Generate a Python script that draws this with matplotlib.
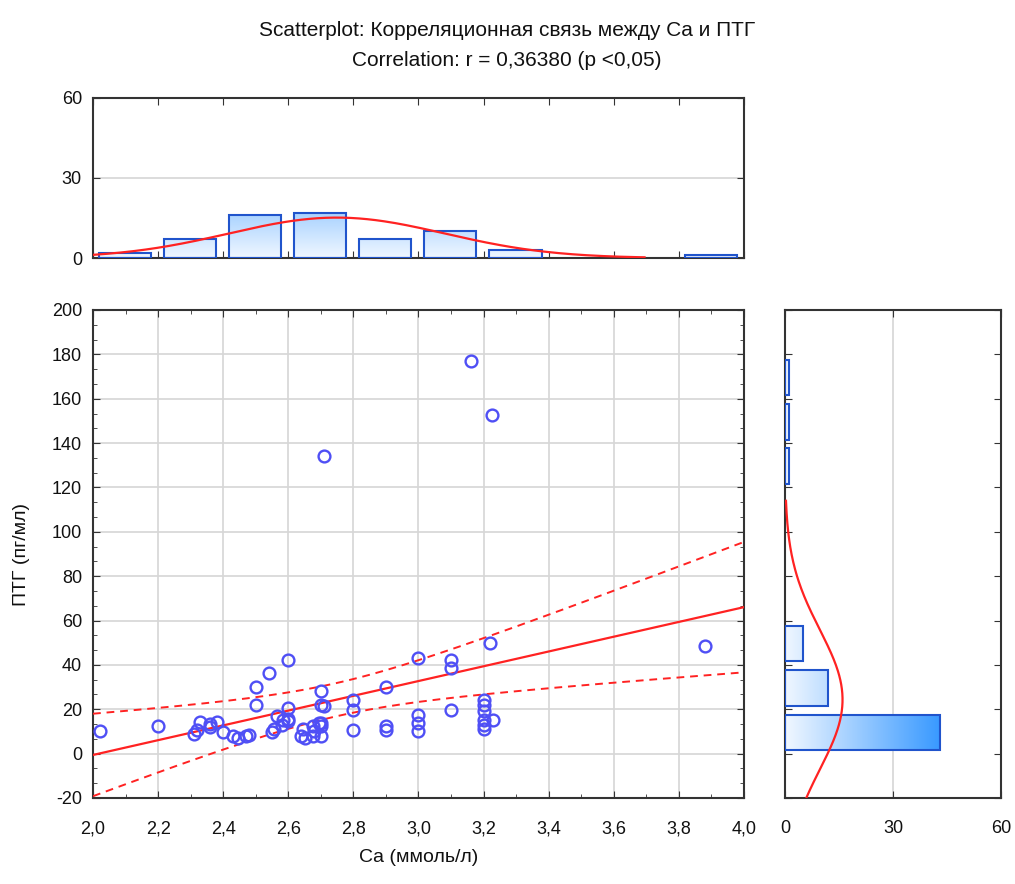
import numpy as np
import matplotlib
matplotlib.use('Agg')
import matplotlib.pyplot as plt
from matplotlib.patches import Rectangle
from matplotlib.ticker import MultipleLocator, FuncFormatter, AutoMinorLocator
from matplotlib import font_manager

# ---------------- data ----------------
ca = [2.02, 2.20, 2.31, 2.32, 2.33, 2.36, 2.36, 2.38, 2.40,
      2.43, 2.445, 2.47, 2.48, 2.50, 2.50, 2.54, 2.55, 2.555, 2.565, 2.58, 2.585, 2.60, 2.60, 2.60, 2.60,
      2.64, 2.645, 2.65, 2.675, 2.675, 2.68, 2.695, 2.70, 2.70, 2.70, 2.70, 2.70, 2.71, 2.71, 2.80, 2.80, 2.80,
      2.90, 2.90, 2.90, 3.00, 3.00, 3.00, 3.00,
      3.10, 3.10, 3.10, 3.16, 3.20, 3.20, 3.20, 3.20, 3.20, 3.20,
      3.22, 3.225, 3.23, 3.88]
pth = [10, 12.6, 8.8, 10.5, 14.3, 13.5, 12.0, 14.3, 9.6,
       7.8, 7.1, 7.8, 8.5, 22, 30, 36.3, 9.8, 11, 16.8, 13, 15.3, 42.3, 20.6, 14.5, 15.5,
       7.8, 11.1, 7.0, 12.3, 7.8, 10, 13.8, 7.8, 12.3, 14, 28.4, 22, 21.6, 134.2, 24, 19.5, 10.8,
       30, 12.6, 10.8, 43, 17.6, 13.8, 10,
       42.3, 38.6, 19.5, 177, 24.3, 22, 19, 15.3, 13.1, 11.1,
       50, 152.6, 15.3, 48.3]

ca_bin_left = [2.0, 2.2, 2.4, 2.6, 2.8, 3.0, 3.2, 3.4, 3.6, 3.8]
ca_counts = [2, 7, 16, 17, 7, 10, 3, 0, 0, 1]
pth_bin_low = [0, 20, 40, 60, 80, 100, 120, 140, 160]
pth_counts = [43, 12, 5, 0, 0, 0, 1, 1, 1]

title_lines = ["Scatterplot: Корреляционная связь между Ca и ПТГ",
               "Correlation: r = 0,36380 (p <0,05)"]
x_label = "Ca (ммоль/л)"
y_label = "ПТГ (пг/мл)"

# ---------------- style ----------------
names = {f.name for f in font_manager.fontManager.ttflist}
fam = 'Liberation Sans Narrow' if 'Liberation Sans Narrow' in names else 'Liberation Sans'
plt.rcParams['font.family'] = [fam, 'DejaVu Sans']

W, H = 1015, 884
fig = plt.figure(figsize=(W / 100, H / 100), dpi=100)

def fr(l, t, r, b):
    return [l / W, 1 - b / H, (r - l) / W, (b - t) / H]

ax = fig.add_axes(fr(93, 310, 744, 798))
axt = fig.add_axes(fr(93, 98, 744, 258))
axr = fig.add_axes(fr(785, 310, 1001, 798))

SPINE = '#333333'
GRID = '#d6d6d6'
BLUE_EDGE = '#2054cc'
RED = '#ff2222'
PT = '#4f4ff5'
light = np.array([240, 247, 255]) / 255
dark = np.array([58, 154, 255]) / 255
VREF = 43.0

comma = FuncFormatter(lambda v, p: f"{v:.1f}".replace('.', ','))
intf = FuncFormatter(lambda v, p: f"{v:.0f}")

for a in (ax, axt, axr):
    for s in a.spines.values():
        s.set_color(SPINE)
        s.set_linewidth(1.5)
    a.tick_params(which='both', direction='in', top=True, right=True,
                  colors=SPINE, labelcolor='#111111', labelsize=13)
    a.tick_params(which='major', length=5)
    a.tick_params(which='minor', length=3)
    a.set_axisbelow(True)

# ---------------- scatter ----------------
xa = np.array(ca); ya = np.array(pth)
n = len(xa)
ax.set_xlim(2.0, 4.0)
ax.set_ylim(-20, 200)
ax.xaxis.set_major_locator(MultipleLocator(0.2))
ax.xaxis.set_minor_locator(MultipleLocator(0.1))
ax.yaxis.set_major_locator(MultipleLocator(20))
ax.yaxis.set_minor_locator(AutoMinorLocator(3))
ax.xaxis.set_major_formatter(comma)
ax.yaxis.set_major_formatter(intf)
ax.grid(True, which='major', color=GRID, lw=1.2)
ax.tick_params(axis='x', pad=16)
ax.tick_params(axis='y', pad=8)

b, a0 = np.polyfit(xa, ya, 1)
xs = np.linspace(2.0, 4.0, 200)
yh = a0 + b * xs
xm = xa.mean()
sse = np.sum((ya - (a0 + b * xa)) ** 2)
s = np.sqrt(sse / (n - 2))
sxx = np.sum((xa - xm) ** 2)
se = s * np.sqrt(1 / n + (xs - xm) ** 2 / sxx)
t = 2.0
ax.plot(xs, yh, color=RED, lw=1.6, zorder=3)
ax.plot(xs, yh + t * se, color=RED, lw=1.4, ls=(0, (4, 3)), zorder=3)
ax.plot(xs, yh - t * se, color=RED, lw=1.4, ls=(0, (4, 3)), zorder=3)
ax.plot(xa, ya, 'o', mfc='none', mec=PT, mew=1.7, ms=8.5, zorder=4)

# ---------------- gradient bars ----------------
def grad_bar(axis, x0, y0, w, h, val, vertical):
    npx = 64
    v = np.linspace(0, val, npx) / VREF
    cols = light[None, :] + (dark - light)[None, :] * np.clip(v, 0, 1)[:, None]
    if vertical:
        img = cols[:, None, :]
    else:
        img = cols[None, :, :]
    im = axis.imshow(img, extent=(x0, x0 + w, y0, y0 + h), origin='lower',
                     aspect='auto', interpolation='bilinear', zorder=2)
    rect = Rectangle((x0, y0), w, h, fill=False, ec=BLUE_EDGE, lw=1.5, zorder=3)
    axis.add_patch(rect)
    im.set_clip_path(rect)

# top histogram
axt.set_xlim(2.0, 4.0)
axt.set_ylim(0, 60)
axt.xaxis.set_major_locator(MultipleLocator(0.2))
axt.yaxis.set_major_locator(MultipleLocator(30))
axt.xaxis.set_major_formatter(FuncFormatter(lambda v, p: ''))
axt.yaxis.set_major_formatter(intf)
axt.tick_params(axis='y', pad=8)
axt.grid(True, axis='y', color=GRID, lw=1.2)
bw = 0.2
for left, c in zip(ca_bin_left, ca_counts):
    if c > 0:
        grad_bar(axt, left + 0.018, 0, bw * 0.8, c, c, True)
mx, sx = xa.mean(), xa.std(ddof=1)
xc = np.linspace(max(2.0, mx - 2.85 * sx), min(4.0, mx + 2.85 * sx), 200)
axt.plot(xc, n * bw * np.exp(-0.5 * ((xc - mx) / sx) ** 2) / (sx * np.sqrt(2 * np.pi)),
         color=RED, lw=1.6, zorder=4)
axt.set_xlim(2.0, 4.0)
axt.set_ylim(0, 60)

# right histogram
axr.set_ylim(-20, 200)
axr.set_xlim(0, 60)
axr.yaxis.set_major_locator(MultipleLocator(20))
axr.xaxis.set_major_locator(MultipleLocator(30))
axr.yaxis.set_major_formatter(FuncFormatter(lambda v, p: ''))
axr.xaxis.set_major_formatter(intf)
axr.tick_params(axis='x', pad=16)
axr.grid(True, axis='x', color=GRID, lw=1.2)
hw = 20
for low, c in zip(pth_bin_low, pth_counts):
    if c > 0:
        grad_bar(axr, 0, low + 1.6, c, hw * 0.8, c, False)
my, sy = ya.mean(), ya.std(ddof=1)
yc = np.linspace(max(-20, my - 2.85 * sy), min(200, my + 2.85 * sy), 200)
axr.plot(n * hw * np.exp(-0.5 * ((yc - my) / sy) ** 2) / (sy * np.sqrt(2 * np.pi)), yc,
         color=RED, lw=1.6, zorder=4)
axr.set_ylim(-20, 200)
axr.set_xlim(0, 60)

# ---------------- texts ----------------
fig.text(0.4995, 1 - 30 / H, title_lines[0], ha='center', va='center', fontsize=15, color='#111111')
fig.text(0.4995, 1 - 60 / H, title_lines[1], ha='center', va='center', fontsize=15, color='#111111')
fig.text(418.5 / W, 1 - 858 / H, x_label, ha='center', va='center', fontsize=14, color='#111111')
fig.text(22 / W, 1 - 554 / H, y_label, ha='center', va='center', rotation=90, fontsize=14, color='#111111')

fig.savefig('out.png', dpi=100)
